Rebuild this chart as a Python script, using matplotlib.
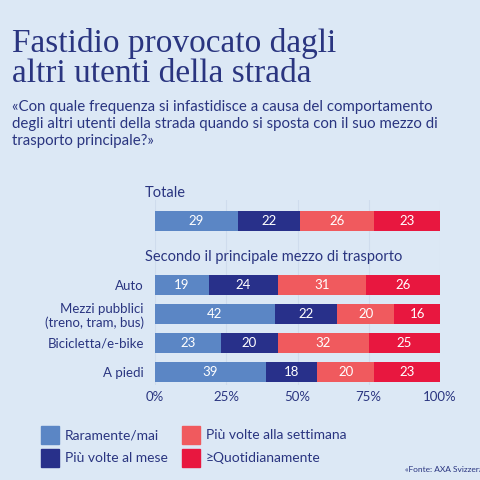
import matplotlib
matplotlib.use("Agg")
import matplotlib.pyplot as plt
from matplotlib.patches import Rectangle

# Data
series_names = ["Raramente/mai", "Più volte al mese", "Più volte alla settimana", "≥Quotidianamente"]
colors = ["#5b86c5", "#28308a", "#f05a5e", "#e8173f"]
total_values = [29, 22, 26, 23]
groups = ["Auto", "Mezzi pubblici\n(treno, tram, bus)", "Bicicletta/e-bike", "A piedi"]
rarely = [19, 42, 23, 39]
monthly = [24, 22, 20, 18]
weekly = [31, 20, 32, 20]
daily = [26, 16, 25, 23]
ticks = [0, 25, 50, 75, 100]

bg = "#dce8f5"
navy = "#2a3580"
plt.rcParams["font.family"] = ["Lato", "DejaVu Sans"]

fig = plt.figure(figsize=(4.8, 4.8), dpi=100, facecolor=bg)

fig.text(12 / 480, 1 - 28 / 480, "Fastidio provocato dagli\naltri utenti della strada",
         family="Liberation Serif", fontsize=24, color=navy, va="top", linespacing=1.0)
fig.text(12 / 480, 1 - 100 / 480,
         "«Con quale frequenza si infastidisce a causa del comportamento\n"
         "degli altri utenti della strada quando si sposta con il suo mezzo di\n"
         "trasporto principale?»", fontsize=10.8, color=navy, va="top", linespacing=1.25)

ax = fig.add_axes([155 / 480, 95 / 480, 285 / 480, 185 / 480])
ax.set_facecolor(bg)
ax.set_xlim(0, 100)
ax.set_ylim(385, 200)
for s in ax.spines.values():
    s.set_visible(False)
for t in ticks:
    ax.axvline(t, color="#cfdced", lw=0.8, zorder=0)

rows_y = [221, 285, 314, 343, 372]
rows = [total_values] + [list(v) for v in zip(rarely, monthly, weekly, daily)]
for y, vals in zip(rows_y, rows):
    left = 0
    for v, c in zip(vals, colors):
        ax.barh(y, v, left=left, height=20, color=c, zorder=2)
        ax.text(left + v / 2, y, str(v), ha="center", va="center", color="white", fontsize=9.5)
        left += v

ax.set_yticks(rows_y[1:])
ax.set_yticklabels(groups, color=navy, fontsize=9.5)
ax.tick_params(axis="y", length=0, pad=8)
for lbl in ax.get_yticklabels():
    lbl.set_multialignment("right")
ax.set_xticks(ticks)
ax.set_xticklabels([f"{t}%" for t in ticks], color=navy, fontsize=9.5)
ax.tick_params(axis="x", length=0, pad=4)

fig.text(145 / 480, 1 - 193 / 480, "Totale", fontsize=10.5, color=navy, va="center")
fig.text(145 / 480, 1 - 257 / 480, "Secondo il principale mezzo di trasporto",
         fontsize=10.5, color=navy, va="center")

# legend
leg_pos = [(41, 435), (41, 458), (182, 435), (182, 458)]
for (x, y), name, c in zip(leg_pos, series_names, colors):
    fig.patches.append(Rectangle((x / 480, 1 - (y + 9) / 480), 18 / 480, 18 / 480,
                                 transform=fig.transFigure, color=c))
    fig.text((x + 24) / 480, 1 - y / 480, name, fontsize=10, color=navy, va="center")

fig.text(405 / 480, 1 - 470 / 480, "«Fonte: AXA Svizzera", fontsize=6, color=navy, va="center")

fig.savefig("out.png", dpi=100, facecolor=bg)
